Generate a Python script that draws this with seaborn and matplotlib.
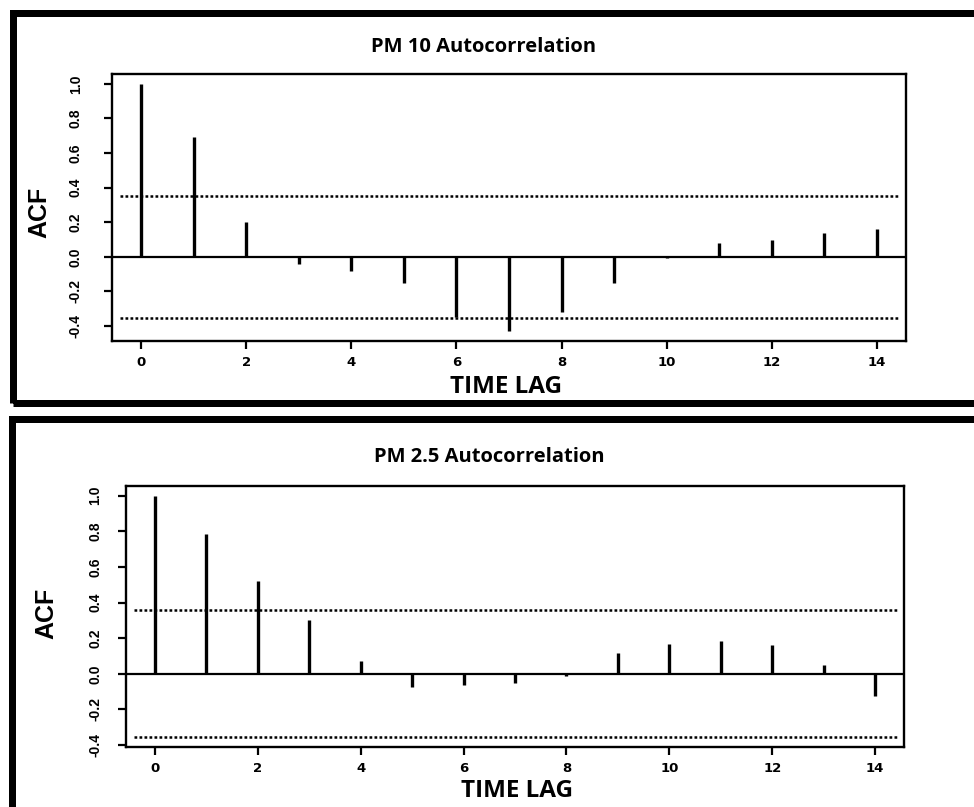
import matplotlib
matplotlib.use("Agg")
import matplotlib.pyplot as plt
from matplotlib.patches import Rectangle
import seaborn as sns

# ACF values
lags = list(range(15))
pm10_acf = [1.0, 0.69, 0.20, -0.04, -0.08, -0.15, -0.35, -0.43, -0.32, -0.15,
            -0.005, 0.078, 0.095, 0.135, 0.158]
pm25_acf = [1.0, 0.785, 0.522, 0.303, 0.073, -0.077, -0.065, -0.054, -0.01,
            0.116, 0.166, 0.185, 0.163, 0.05, -0.122]
pm10_ci = 0.352
pm25_ci = 0.357

x_ticks = [0, 2, 4, 6, 8, 10, 12, 14]
y_ticks = [-0.4, -0.2, 0.0, 0.2, 0.4, 0.6, 0.8, 1.0]
y_tick_labels = ["-0.4", "-0.2", "0.0", "0.2", "0.4", "0.6", "0.8", "1.0"]

titles = ["PM 10 Autocorrelation", "PM 2.5 Autocorrelation"]
x_label = "TIME LAG"
y_label = "ACF"

W, H = 974, 807

sns.set_theme(style="white")
plt.rcParams["font.family"] = ["Liberation Sans", "DejaVu Sans"]
plt.rcParams["text.color"] = "black"
plt.rcParams["axes.labelcolor"] = "black"
plt.rcParams["xtick.color"] = "black"
plt.rcParams["ytick.color"] = "black"

fig = plt.figure(figsize=(W / 100, H / 100), dpi=100)
fig.patch.set_facecolor("white")


def px_box(left, top, right, bottom):
    return [left / W, 1 - bottom / H, (right - left) / W, (bottom - top) / H]


def ftext(x, y, s, **kw):
    fig.text(x / W, 1 - y / H, s, ha="center", va="center", color="black", **kw)


def draw_acf(ax, values, ci, ylim, ypad):
    ax.vlines(lags, 0, values, color="black", lw=2.4)
    ax.axhline(0, color="black", lw=1.6)
    for c in (ci, -ci):
        ax.axhline(c, color="black", lw=1.8, ls=(0, (1.1, 0.9)), xmin=0.01, xmax=0.993)
    ax.set_xlim(-0.56, 14.56)
    ax.set_ylim(*ylim)
    ax.set_xticks(x_ticks)
    ax.set_xticklabels([str(t) for t in x_ticks], fontsize=9.5, fontweight="bold",
                       family="DejaVu Sans")
    ax.set_yticks(y_ticks)
    ax.set_yticklabels(y_tick_labels, fontsize=10, fontweight="bold",
                       rotation=90, va="center")
    ax.tick_params(axis="both", direction="out", length=6, width=1.6,
                   color="black", labelcolor="black", left=True, bottom=True)
    ax.tick_params(axis="x", pad=5)
    ax.tick_params(axis="y", pad=ypad)
    for sp in ax.spines.values():
        sp.set_visible(True)
        sp.set_color("black")
        sp.set_linewidth(1.7)
    ax.set_xlabel("")
    ax.set_ylabel("")


ax1 = fig.add_axes(px_box(112, 74, 906, 341))
draw_acf(ax1, pm10_acf, pm10_ci, (-0.487, 1.057), 15)

ax2 = fig.add_axes(px_box(126, 486, 904, 747))
draw_acf(ax2, pm25_acf, pm25_ci, (-0.411, 1.054), 11)

# panel titles and axis labels
ftext(484, 47, titles[0], fontsize=14.5, fontweight="bold", family="Open Sans")
ftext(489, 457, titles[1], fontsize=14.5, fontweight="bold", family="Open Sans")
ftext(506, 387, x_label, fontsize=17.5, fontweight="bold", family="Open Sans")
ftext(517, 791, x_label, fontsize=17.5, fontweight="bold", family="Open Sans")
ftext(39, 212, y_label, fontsize=18, fontweight="bold", rotation=90)
ftext(46, 613, y_label, fontsize=18, fontweight="bold", rotation=90)

# thick frames around each panel
lw_frame = 7 * 72 / 100
fig.add_artist(Rectangle((12.5 / W, 1 - 403 / H), (985 - 12.5) / W, (403 - 12.5) / H,
                         transform=fig.transFigure, fill=False, ec="black",
                         lw=lw_frame, clip_on=False))
fig.add_artist(Rectangle((11.5 / W, 1 - 810 / H), (985 - 11.5) / W, (810 - 419) / H,
                         transform=fig.transFigure, fill=False, ec="black",
                         lw=lw_frame, clip_on=False))

fig.savefig("out.png", dpi=100, facecolor="white")
plt.close(fig)
